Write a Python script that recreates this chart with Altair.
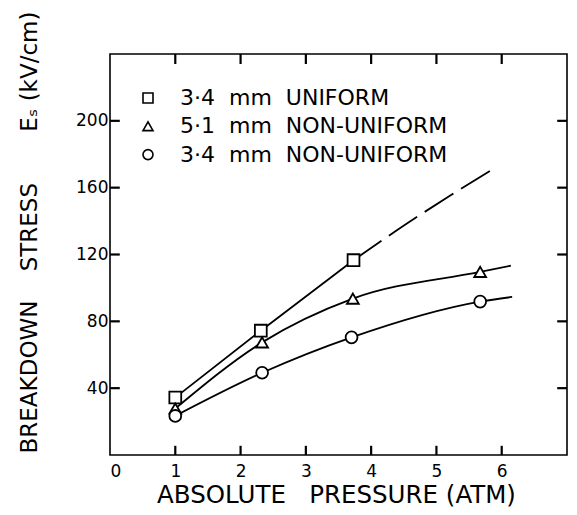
import altair as alt
import pandas as pd

NB = "\u00a0"
series = [
    "3·4" + NB * 2 + "mm" + NB * 2 + "UNIFORM",
    "5·1" + NB * 2 + "mm" + NB * 2 + "NON-UNIFORM",
    "3·4" + NB * 2 + "mm" + NB * 2 + "NON-UNIFORM",
]
shapes = ["square", "triangle-up", "circle"]

# measured points
sq_x = [1.0, 2.31, 3.73]
sq_y = [34.4, 74.4, 116.6]
tri_x = [1.0, 2.33, 3.72, 5.67]
tri_y = [27.8, 67.4, 93.6, 109.6]
cir_x = [1.0, 2.33, 3.70, 5.67]
cir_y = [23.4, 49.2, 70.4, 91.8]

# where the drawn curves end
tri_end_x, tri_end_y = [6.14], [113.3]
cir_end_x, cir_end_y = [6.16], [94.6]
# dashed extrapolation of the uniform curve
sq_dash_x = [3.73, 4.71, 5.23, 5.93]
sq_dash_y = [116.6, 142.7, 155.7, 172.7]

x_ticks = [0, 1, 2, 3, 4, 5, 6]
y_ticks = [40, 80, 120, 160, 200]
x_inner_ticks = [1, 2, 3, 4, 5, 6]
x_title = "ABSOLUTE" + NB * 3 + "PRESSURE" + NB + "(ATM)"
y_title = "BREAKDOWN" + NB * 4 + "STRESS" + NB * 7 + "E\u209b" + NB + "(kV/cm)"

FONT = "DejaVu Sans"

pts = pd.DataFrame(
    [(series[0], x, y) for x, y in zip(sq_x, sq_y)]
    + [(series[1], x, y) for x, y in zip(tri_x, tri_y)]
    + [(series[2], x, y) for x, y in zip(cir_x, cir_y)],
    columns=["s", "x", "y"],
)
solid = pd.DataFrame(
    [(series[0], x, y) for x, y in zip(sq_x, sq_y)]
    + [(series[1], x, y) for x, y in zip(tri_x + tri_end_x, tri_y + tri_end_y)]
    + [(series[2], x, y) for x, y in zip(cir_x + cir_end_x, cir_y + cir_end_y)],
    columns=["s", "x", "y"],
)
dash = pd.DataFrame({"s": series[0], "x": sq_dash_x, "y": sq_dash_y})
xt = pd.DataFrame({"x": x_inner_ticks})
yt = pd.DataFrame({"y": y_ticks})

xscale = alt.Scale(domain=[0, 7], nice=False, zero=False)
yscale = alt.Scale(domain=[0, 240], nice=False)

bottom_axis = alt.Axis(values=x_ticks, title=x_title, orient="bottom", labelPadding=8,
                       titleX=226, titleY=40, titleBaseline="middle", titleAlign="center",
                       titleFontSize=24.5)
left_axis = alt.Axis(values=y_ticks, title=y_title, orient="left", labelPadding=2,
                     titleX=-81, titleY=178, titleAngle=270, titleBaseline="middle",
                     titleAlign="center")

lines = alt.Chart(solid).mark_line(color="black", strokeWidth=1.8, interpolate="monotone").encode(
    x=alt.X("x:Q", scale=xscale, axis=bottom_axis),
    y=alt.Y("y:Q", scale=yscale, axis=left_axis),
    detail="s:N",
)
dashed = alt.Chart(dash).mark_line(color="black", strokeWidth=1.8, interpolate="monotone",
                                   strokeDash=[34, 9]).encode(
    x=alt.X("x:Q", scale=xscale, axis=None),
    y=alt.Y("y:Q", scale=yscale, axis=None),
)
points = alt.Chart(pts).mark_point(filled=False, fill="white", strokeWidth=1.8,
                                   size=140, opacity=1).encode(
    x=alt.X("x:Q", scale=xscale, axis=None),
    y=alt.Y("y:Q", scale=yscale, axis=None),
    color=alt.value("black"),
    shape=alt.Shape("s:N", scale=alt.Scale(domain=series, range=shapes),
                    legend=alt.Legend(orient="none", legendX=27, legendY=33, title=None,
                                      labelFontSize=22, labelFont=FONT, labelColor="black",
                                      symbolSize=100, symbolStrokeWidth=1.6,
                                      labelOffset=21, rowPadding=6.3, padding=0,
                                      labelLimit=400)),
)

# inward tick marks on the four sides of the frame (lengths in data units)
rule_kw = dict(color="black", strokeWidth=2.2)
bottom_ticks = alt.Chart(xt).mark_rule(**rule_kw).encode(
    x=alt.X("x:Q", scale=xscale, axis=None),
    y=alt.YDatum(0, scale=yscale, axis=None), y2=alt.Y2Datum(5.5),
)
top_ticks = alt.Chart(xt).mark_rule(**rule_kw).encode(
    x=alt.X("x:Q", scale=xscale, axis=None),
    y=alt.YDatum(240, scale=yscale, axis=None), y2=alt.Y2Datum(234),
)
left_ticks = alt.Chart(yt).mark_rule(**rule_kw).encode(
    y=alt.Y("y:Q", scale=yscale, axis=None),
    x=alt.XDatum(0, scale=xscale, axis=None), x2=alt.X2Datum(0.15),
)
right_ticks = alt.Chart(yt).mark_rule(**rule_kw).encode(
    y=alt.Y("y:Q", scale=yscale, axis=None),
    x=alt.XDatum(7, scale=xscale, axis=None), x2=alt.X2Datum(6.85),
)

chart = (
    alt.layer(lines, dashed, bottom_ticks, top_ticks, left_ticks, right_ticks, points)
    .resolve_axis(x="independent", y="independent")
    .properties(
        width=457, height=401,
        autosize=alt.AutoSizeParams(type="none"),
        padding={"left": 102, "top": 46, "right": 2, "bottom": 52},
        background="white",
    )
    .configure_view(stroke="black", strokeWidth=1.6)
    .configure_axis(
        grid=False, ticks=False, domain=False,
        labelFont=FONT, labelFontSize=17, labelColor="black",
        titleFont=FONT, titleFontSize=23, titleColor="black", titleFontWeight="normal",
    )
)

chart.save("out.html", embed_options={"renderer": "svg", "actions": False})
